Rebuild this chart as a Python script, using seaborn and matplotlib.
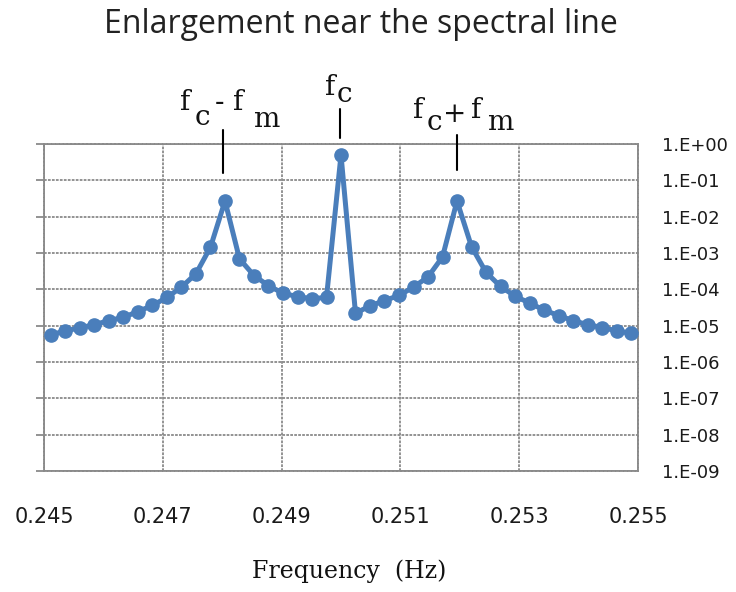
import numpy as np
import pandas as pd
import seaborn as sns
import matplotlib
matplotlib.use("Agg")
import matplotlib.pyplot as plt
from matplotlib.lines import Line2D
from matplotlib.ticker import FixedLocator, FuncFormatter

# ---- data ----
freq = [0.245117, 0.245361, 0.245605, 0.245850, 0.246094, 0.246338, 0.246582,
        0.246826, 0.247070, 0.247314, 0.247559, 0.247803, 0.248047, 0.248291,
        0.248535, 0.248779, 0.249023, 0.249268, 0.249512, 0.249756, 0.250000,
        0.250244, 0.250488, 0.250732, 0.250977, 0.251221, 0.251465, 0.251709,
        0.251953, 0.252197, 0.252441, 0.252686, 0.252930, 0.253174, 0.253418,
        0.253662, 0.253906, 0.254150, 0.254395, 0.254639, 0.254883]
amplitude = [5.6e-6, 7.2e-6, 8.7e-6, 1.07e-5, 1.38e-5, 1.7e-5, 2.45e-5,
             3.6e-5, 6.0e-5, 1.15e-4, 2.7e-4, 1.45e-3, 2.7e-2, 6.9e-4,
             2.4e-4, 1.26e-4, 7.8e-5, 6.3e-5, 5.5e-5, 6.0e-5, 0.50,
             2.2e-5, 3.5e-5, 4.9e-5, 6.8e-5, 1.15e-4, 2.2e-4, 7.8e-4,
             2.7e-2, 1.5e-3, 2.95e-4, 1.2e-4, 6.5e-5, 4.2e-5, 2.7e-5,
             1.9e-5, 1.38e-5, 1.07e-5, 8.9e-6, 7.2e-6, 6.2e-6]
x_ticks = [0.245, 0.247, 0.249, 0.251, 0.253, 0.255]
x_tick_labels = ["0.245", "0.247", "0.249", "0.251", "0.253", "0.255"]
y_exponents = [0, -1, -2, -3, -4, -5, -6, -7, -8, -9]
title = "Enlargement near the spectral line"
x_label = "Frequency  (Hz)"

df = pd.DataFrame({"freq": freq, "amp": amplitude})

sns.set_theme(style="white")
plt.rcParams["font.family"] = ["DejaVu Sans"]

W, H = 736, 592
fig = plt.figure(figsize=(W / 100, H / 100), dpi=100)
ax = fig.add_axes([44 / W, 1 - 471 / H, (638 - 44) / W, (471 - 144) / H])

blue = "#4A7EBB"
sns.lineplot(data=df, x="freq", y="amp", ax=ax, color=blue, linewidth=3.6,
             marker="o", markersize=9.5, markeredgecolor=blue, markeredgewidth=1,
             legend=False, zorder=5)

ax.set_yscale("log")
ax.set_xlim(0.245, 0.255)
ax.set_ylim(1e-9, 1e0)

grid_kw = dict(color="#8a8a8a", linestyle=(0, (1.5, 0.7)), linewidth=1.3)
ax.xaxis.set_major_locator(FixedLocator(x_ticks))
ax.set_xticklabels(x_tick_labels)
ax.yaxis.set_major_locator(FixedLocator([10.0 ** e for e in y_exponents]))
ax.yaxis.set_minor_locator(FixedLocator([]))
ax.yaxis.set_major_formatter(FuncFormatter(lambda v, p: "1.E%+03d" % int(round(np.log10(v)))))
ax.grid(True, which="major", **grid_kw)
for s in ax.spines.values():
    s.set_color("#8a8a8a")
    s.set_linestyle((0, (1.5, 0.7)))
    s.set_linewidth(1.3)

ax.tick_params(axis="x", length=0, pad=26, labelsize=15, labelcolor="#1a1a1a")
ax.tick_params(axis="y", left=True, right=False, labelleft=False, labelright=True,
               direction="out", length=6, width=1.3, color="#8a8a8a",
               pad=11, labelsize=13, labelcolor="#1a1a1a")
ax.set_xlabel("")
ax.set_ylabel("")

fig.text(361 / W, 1 - 33 / H, title, ha="center", va="baseline",
         fontsize=23, family="Open Sans", color="#222222")
fig.text(349 / W, 1 - 578 / H, x_label, ha="center", va="baseline",
         fontsize=17, family="DejaVu Serif", color="#111111")

# annotations (letters with lowered subscripts, centred on pixel positions)
serif = "DejaVu Serif"
pieces = [
    ("f", 185, 110), ("c", 202, 125), ("-", 220, 110), ("f", 238, 110), ("m", 266, 127),
    ("f", 330, 95), ("c", 344, 102),
    ("f", 418, 118), ("c", 434, 130), ("+", 455, 122), ("f", 476, 118), ("m", 500, 130),
]
for s, xp, yp in pieces:
    fig.text(xp / W, 1 - yp / H, s, ha="center", va="baseline", fontsize=20,
             family=serif, color="#111111")
for xp, y0, y1 in [(223, 130, 173), (340, 109, 138), (457, 135, 170)]:
    fig.add_artist(Line2D([xp / W, xp / W], [1 - y0 / H, 1 - y1 / H],
                          transform=fig.transFigure, color="black", linewidth=1.5))

fig.savefig("out.png", dpi=100)
